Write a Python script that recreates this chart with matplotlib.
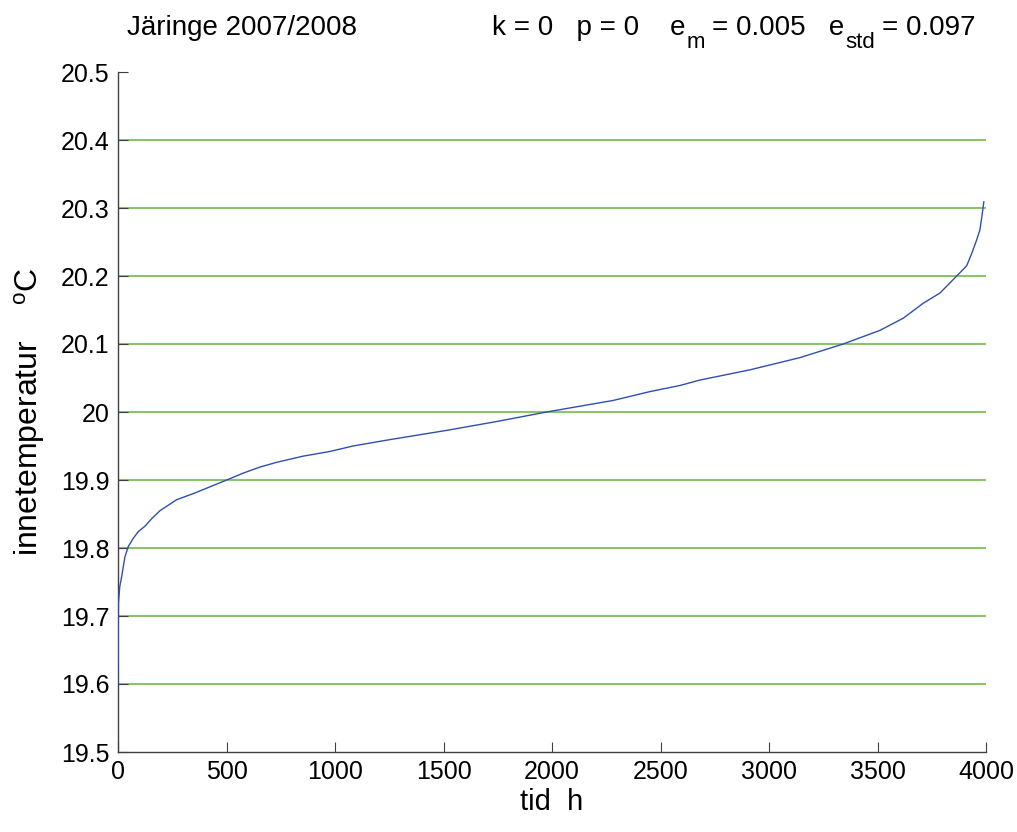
import matplotlib
matplotlib.use("Agg")
import matplotlib.pyplot as plt
from matplotlib import font_manager

# sorted indoor temperature, read as (hours, degC) pairs along the duration curve
hours = [0, 2, 8, 17, 24, 32, 47, 70, 93, 124, 155, 194, 270, 347, 424, 501,
         576, 654, 731, 852, 977, 1083, 1246, 1515, 1745, 1975, 2282, 2451,
         2590, 2682, 2912, 3143, 3342, 3511, 3619, 3711, 3788, 3865, 3911,
         3934, 3957, 3972, 3980, 3990]
temp = [19.600, 19.719, 19.743, 19.758, 19.772, 19.787, 19.802, 19.814, 19.824,
        19.832, 19.843, 19.855, 19.871, 19.880, 19.890, 19.900, 19.910, 19.919,
        19.926, 19.935, 19.942, 19.950, 19.959, 19.973, 19.986, 20.000, 20.017,
        20.030, 20.039, 20.047, 20.062, 20.080, 20.100, 20.120, 20.138, 20.160,
        20.175, 20.200, 20.215, 20.233, 20.253, 20.268, 20.285, 20.309]

yticks = [19.5, 19.6, 19.7, 19.8, 19.9, 20.0, 20.1, 20.2, 20.3, 20.4, 20.5]
ytick_labels = ["19.5", "19.6", "19.7", "19.8", "19.9", "20", "20.1", "20.2", "20.3", "20.4", "20.5"]
xticks = [0, 500, 1000, 1500, 2000, 2500, 3000, 3500, 4000]

site = "Järinge 2007/2008"
k_val, p_val = 0, 0
e_m, e_std = 0.005, 0.097

names = {f.name for f in font_manager.fontManager.ttflist}
FONT = "Liberation Sans" if "Liberation Sans" in names else "DejaVu Sans"
plt.rcParams.update({
    "font.family": FONT,
    "mathtext.fontset": "custom",
    "mathtext.rm": FONT,
    "mathtext.it": FONT,
    "mathtext.bf": FONT,
})

GREEN = "#8cc46c"
BLUE = "#2f4fb0"
AXIS = "#404040"
W, H = 1017, 832

fig = plt.figure(figsize=(W / 100, H / 100), dpi=100)
ax = fig.add_axes([118 / W, 1 - 752 / H, 868 / W, 680 / H])

for yv in yticks[1:-1]:
    ax.axhline(yv, color=GREEN, lw=1.5, zorder=1)
ax.plot(hours, temp, color=BLUE, lw=1.0, zorder=3)

ax.set_xlim(0, 4000)
ax.set_ylim(19.5, 20.5)
ax.set_xticks(xticks)
ax.set_xticklabels([str(v) for v in xticks])
ax.set_yticks(yticks)
ax.set_yticklabels(ytick_labels)

for side in ("top", "right"):
    ax.spines[side].set_visible(False)
for side in ("left", "bottom"):
    ax.spines[side].set_color(AXIS)
    ax.spines[side].set_linewidth(1.0)
ax.tick_params(direction="in", length=7, width=0.8, color=AXIS, labelsize=18, pad=6)

ax.set_xlabel("tid  h", fontsize=21, labelpad=3)
ax.set_ylabel("innetemperatur    $^{\\mathregular{o}}$C", fontsize=23, labelpad=10)

# title: plain text pieces laid out left to right, subscripts dropped low
renderer = fig.canvas.get_renderer()
BASE = 35
SUB_DROP = 13


def row(pieces, x0):
    """pieces: (text, size, drop, gap_after); returns list of Text and end x"""
    out, x = [], x0
    for s, size, drop, gap in pieces:
        t = fig.text(x / W, 1 - (BASE + drop) / H, s, fontsize=size,
                     ha="left", va="baseline")
        x += t.get_window_extent(renderer).width + gap
        out.append(t)
    return out, x


row([(site, 20, 0, 0)], 127)
params = [
    (f"k = {k_val}   p = {p_val}    e", 20, 0, 2),
    ("m", 16, SUB_DROP, 6),
    (f"= {e_m:.3f}   e", 20, 0, 2),
    ("std", 16, SUB_DROP, 6),
    (f"= {e_std:.3f}", 20, 0, 0),
]
texts, x_end = row(params, 0)
shift = 975 - x_end
for t in texts:
    px, py = t.get_position()
    t.set_position((px + shift / W, py))

fig.savefig("out.png", dpi=100, facecolor="white")
